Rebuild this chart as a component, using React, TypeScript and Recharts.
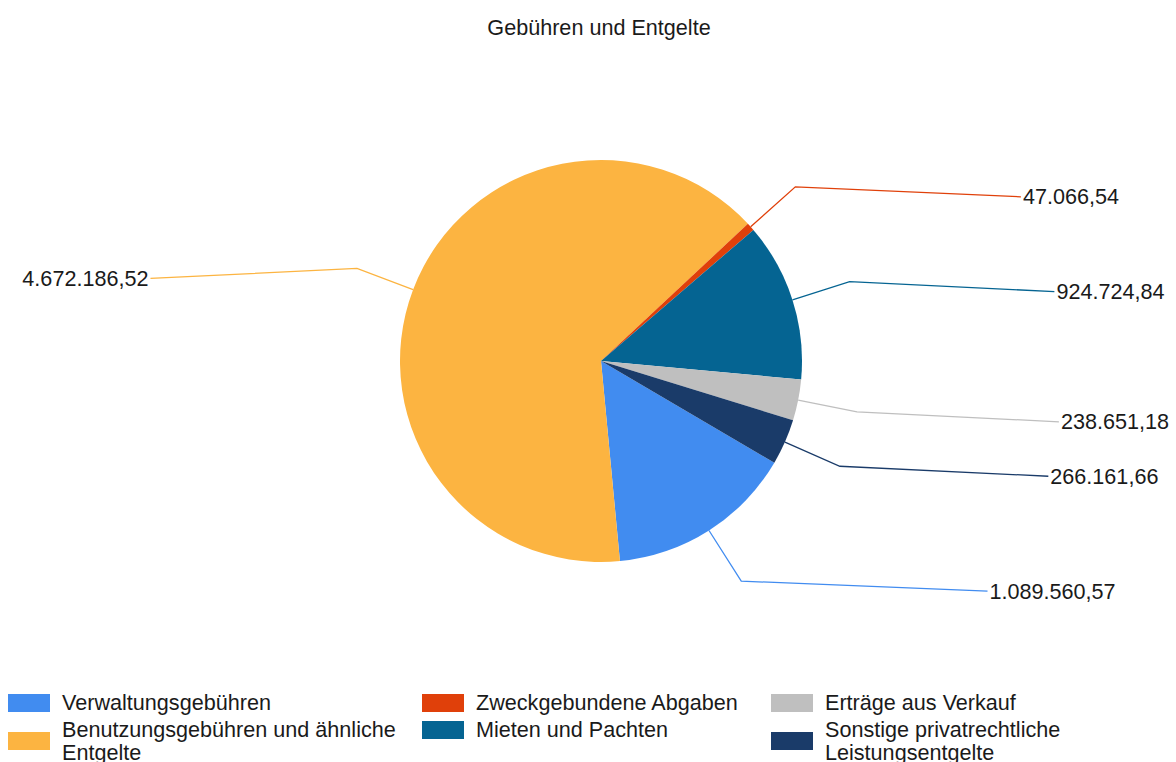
import { PieChart, Pie, Cell, Legend } from 'recharts';

// Werte aus dem Diagramm
const categories = [
  'Verwaltungsgebühren',
  'Benutzungsgebühren und ähnliche Entgelte',
  'Zweckgebundene Abgaben',
  'Mieten und Pachten',
  'Erträge aus Verkauf',
  'Sonstige privatrechtliche Leistungsentgelte',
];
const amounts = [1089560.57, 4672186.52, 47066.54, 924724.84, 238651.18, 266161.66];

// BrightPastel palette
const colors = ['#418CF0', '#FCB441', '#E0400A', '#056492', '#BFBFBF', '#1A3B69'];

const FONT = '"Liberation Sans", Arial, sans-serif';
const FS = 21.6;
const START = -30.4;

function formatDE(v: number): string {
  const [int, dec] = v.toFixed(2).split('.');
  return int.replace(/\B(?=(\d{3})+(?!\d))/g, '.') + ',' + dec;
}

const RAD = Math.PI / 180;

function renderLabel(props: any) {
  const { cx, cy, midAngle, outerRadius, index, value } = props;
  const cos = Math.cos(-midAngle * RAD);
  const sin = Math.sin(-midAngle * RAD);
  const sx = cx + outerRadius * cos;
  const sy = cy + outerRadius * sin;
  const bx = cx + (outerRadius + 60) * cos;
  const by = cy + (outerRadius + 60) * sin;
  const right = cos >= 0;
  // longer horizontal run for the steeper slices
  const run = 200 + 100 * (1 - Math.abs(cos));
  const ex = bx + (right ? run : -run);
  const ey = by + 10;
  return (
    <g key={`lbl-${index}`}>
      <polyline
        points={`${sx},${sy} ${bx},${by} ${ex},${ey}`}
        fill="none"
        stroke={colors[index]}
        strokeWidth={1.3}
      />
      <text
        x={ex + (right ? 2 : -2)}
        y={ey}
        textAnchor={right ? 'start' : 'end'}
        dominantBaseline="central"
        fontFamily={FONT}
        fontSize={FS}
        fill="#1a1a1a"
      >
        {formatDE(value)}
      </text>
    </g>
  );
}

const data = categories.map((name, i) => ({ name, value: amounts[i] }));

// legend grid: 3 columns, filled column by column
const legendCols = [8, 422, 771];

function renderLegend() {
  return (
    <div style={{ position: 'relative', width: 1176, height: 80, fontFamily: FONT, fontSize: FS, color: '#1a1a1a' }}>
      {categories.map((name, i) => {
        const col = Math.floor(i / 2);
        const row = i % 2;
        return (
          <div
            key={name}
            style={{
              position: 'absolute',
              left: legendCols[col],
              top: row === 0 ? 0 : 27,
              display: 'flex',
              alignItems: 'center',
              width: 400,
            }}
          >
            <div style={{ width: 42, height: 18, background: colors[i], flexShrink: 0 }} />
            <div style={{ marginLeft: 12, lineHeight: '23px', maxWidth: 345 }}>{name}</div>
          </div>
        );
      })}
    </div>
  );
}

export default function App() {
  return (
    <div style={{ position: 'absolute', left: 0, top: 0, width: 1176, height: 762, background: '#fff', overflow: 'hidden' }}>
      <div
        style={{
          position: 'absolute',
          top: 15,
          left: 22,
          width: 1154,
          textAlign: 'center',
          fontFamily: FONT,
          fontSize: FS,
          color: '#1a1a1a',
        }}
      >
        Gebühren und Entgelte
      </div>
      <PieChart width={1176} height={762} margin={{ top: 0, right: 0, bottom: 0, left: 0 }}>
        <Pie
          data={data}
          dataKey="value"
          nameKey="name"
          cx={601}
          cy={361}
          outerRadius={201}
          startAngle={START}
          endAngle={START - 360}
          stroke="none"
          label={renderLabel}
          labelLine={false}
          isAnimationActive={false}
        >
          {data.map((d, i) => (
            <Cell key={d.name} fill={colors[i]} />
          ))}
        </Pie>
        <Legend
          content={renderLegend}
          wrapperStyle={{ left: 0, top: 691, width: 1176 }}
        />
      </PieChart>
    </div>
  );
}
